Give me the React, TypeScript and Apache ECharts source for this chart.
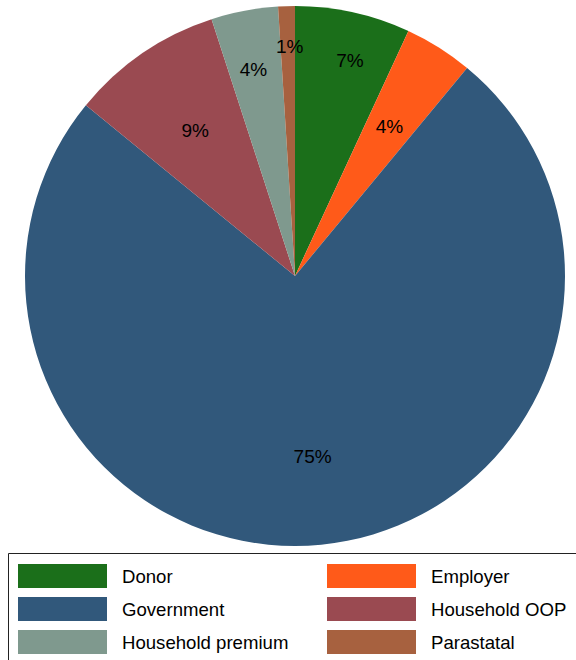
import React, { useEffect, useRef } from "react";
import * as echarts from "echarts";

const categories = ["Donor", "Employer", "Government", "Household OOP", "Household premium", "Parastatal"];
const shares = [6.9, 4.1, 74.9, 9.1, 4.0, 1.0];
const colors = ["#1b6f1a", "#ff5a19", "#31587b", "#9a4a51", "#7f998e", "#a7613f"];
const legendLeft = ["Donor", "Government", "Household premium"];
const legendRight = ["Employer", "Household OOP", "Parastatal"];
// label placement (style only): distance from centre as a fraction of the radius, and angular nudge in degrees
const labelRadiusFrac = [0.822, 0.656, 0.67, 0.654, 0.779, 0.852];
const labelAngleNudge = [1.9, 0, 0, 0, -0.6, 0.5];

const CX = 295;
const CY = 276;
const R = 270;
const FONT = "'Liberation Sans', Arial, Helvetica, sans-serif";

export default function App() {
  const ref = useRef<HTMLDivElement>(null);
  useEffect(() => {
    if (!ref.current) return;
    const chart = echarts.init(ref.current, null, { renderer: "svg" });
    const total = shares.reduce((a, b) => a + b, 0);
    const cum: number[] = [];
    let acc = 0;
    shares.forEach((v) => {
      cum.push(acc);
      acc += v;
    });
    const legendCommon = {
      orient: "vertical",
      top: 564,
      itemWidth: 89,
      itemHeight: 24,
      itemGap: 9,
      icon: "rect",
      padding: 0,
      textStyle: { fontFamily: FONT, fontSize: 18.6, color: "#000", padding: [0, 0, 0, 10] },
      selectedMode: false,
    };
    chart.setOption({
      animation: false,
      backgroundColor: "#ffffff",
      textStyle: { fontFamily: FONT },
      legend: [
        { ...legendCommon, data: legendLeft, left: 18 },
        { ...legendCommon, data: legendRight, left: 327 },
      ],
      graphic: [
        {
          type: "rect",
          shape: { x: 8.5, y: 553.5, width: 700, height: 300 },
          style: { fill: "none", stroke: "#222", lineWidth: 1 },
          silent: true,
          z: 0,
        },
      ],
      series: [
        {
          type: "pie",
          center: [CX, CY],
          radius: [0, R],
          startAngle: 90,
          clockwise: true,
          avoidLabelOverlap: false,
          data: categories.map((name, i) => ({
            name,
            value: shares[i],
            itemStyle: { color: colors[i] },
          })),
          itemStyle: { borderWidth: 0 },
          label: {
            show: true,
            position: "inside",
            fontFamily: FONT,
            fontSize: 19,
            color: "#000",
            align: "center",
            verticalAlign: "middle",
            formatter: (p: any) => Math.round(p.percent) + "%",
          },
          labelLine: { show: false },
          labelLayout: (p: any) => {
            const i = p.dataIndex;
            const theta =
              (2 * Math.PI * (cum[i] + shares[i] / 2)) / total +
              (labelAngleNudge[i] * Math.PI) / 180;
            const f = labelRadiusFrac[i];
            return {
              x: CX + R * f * Math.sin(theta),
              y: CY - R * f * Math.cos(theta),
              align: "center",
              verticalAlign: "middle",
            };
          },
          emphasis: { disabled: true },
        },
      ],
    });
    return () => chart.dispose();
  }, []);
  return (
    <div
      ref={ref}
      style={{ position: "fixed", left: 0, top: 0, width: 576, height: 660 }}
    />
  );
}
